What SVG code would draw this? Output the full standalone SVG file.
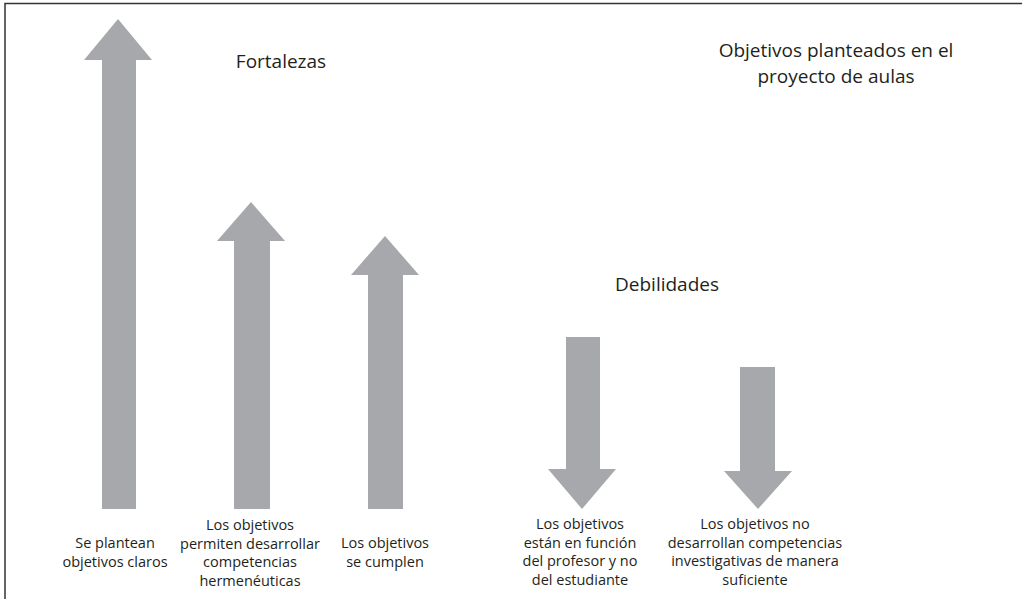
<svg xmlns="http://www.w3.org/2000/svg" width="1022" height="599" viewBox="0 0 1022 599">
<style>
.arrow{fill:#a7a8ab}
.h{font-family:"Open Sans","Noto Sans",sans-serif;font-size:19px;fill:#231f20;text-anchor:middle}
.l{font-family:"Open Sans","Noto Sans",sans-serif;font-size:14.5px;fill:#231f20;text-anchor:middle}
</style>
<rect width="1022" height="599" fill="#ffffff"/>
<g id="frame">
<path d="M5,599 V3.5 H1022" fill="none" stroke="#333333" stroke-width="1.5"/>
</g>
<g id="title">
<text class="h" x="836" y="57">Objetivos planteados en el</text>
<text class="h" x="836" y="83">proyecto de aulas</text>
</g>
<g id="fortalezas"><text class="h" x="281" y="68">Fortalezas</text></g>
<g id="debilidades"><text class="h" x="667" y="291">Debilidades</text></g>
<g id="connectors">
<polygon id="arrow1" class="arrow" points="118,19 152,60 136,60 136,509 102,509 102,60 84,60"/>
<polygon id="arrow2" class="arrow" points="251,202 285,241 270,241 270,509 234,509 234,241 217,241"/>
<polygon id="arrow3" class="arrow" points="385,236 419,275 403,275 403,509 368,509 368,275 351,275"/>
<polygon id="arrow4" class="arrow" points="566,337 600,337 600,469 616,469 582,509 548,469 566,469"/>
<polygon id="arrow5" class="arrow" points="740,367 775,367 775,471 792,471 758,509 724,471 740,471"/>
</g>
<g id="label1">
<text class="l" x="115" y="548">Se plantean</text>
<text class="l" x="115" y="567">objetivos claros</text>
</g>
<g id="label2">
<text class="l" x="250" y="530">Los objetivos</text>
<text class="l" x="250" y="549">permiten desarrollar</text>
<text class="l" x="250" y="567">competencias</text>
<text class="l" x="250" y="586">hermenéuticas</text>
</g>
<g id="label3">
<text class="l" x="385" y="548">Los objetivos</text>
<text class="l" x="385" y="567">se cumplen</text>
</g>
<g id="label4">
<text class="l" x="580" y="529">Los objetivos</text>
<text class="l" x="580" y="548">están en función</text>
<text class="l" x="580" y="566">del profesor y no</text>
<text class="l" x="580" y="585">del estudiante</text>
</g>
<g id="label5">
<text class="l" x="755" y="529">Los objetivos no</text>
<text class="l" x="755" y="548">desarrollan competencias</text>
<text class="l" x="755" y="566">investigativas de manera</text>
<text class="l" x="755" y="585">suficiente</text>
</g>
</svg>
